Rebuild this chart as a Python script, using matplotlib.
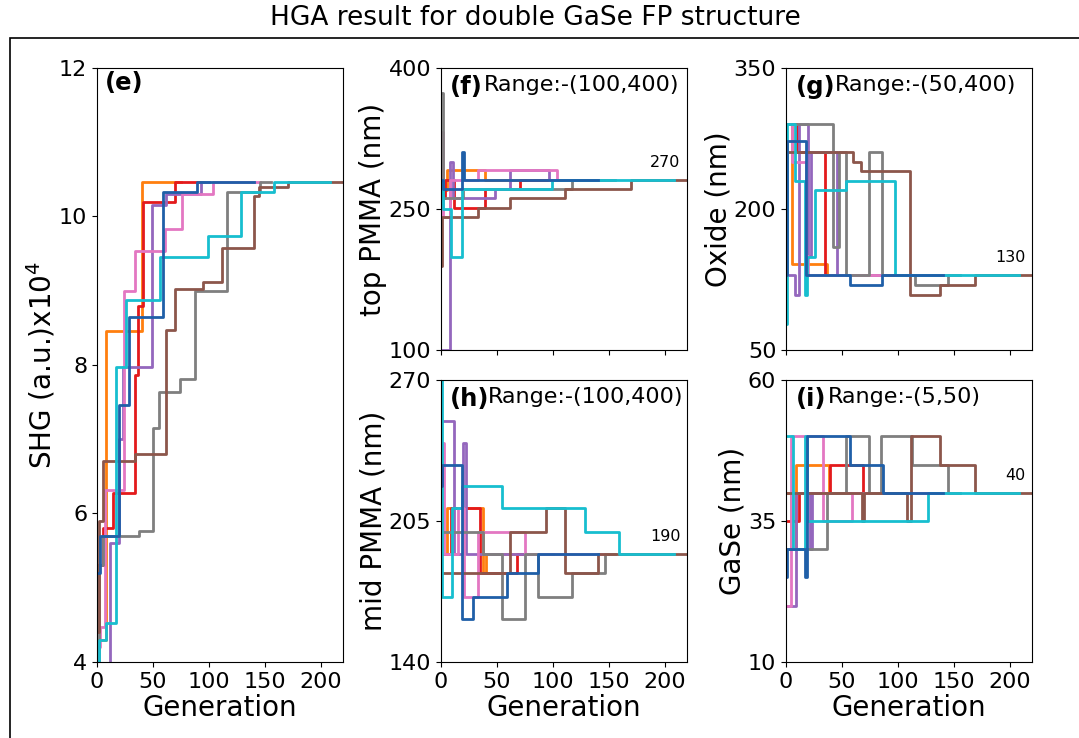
import matplotlib
matplotlib.use("Agg")
import matplotlib.pyplot as plt
from matplotlib.patches import Rectangle

# ---------------- data (change points of each GA run) ----------------
runs = ["orange", "red", "purple", "pink", "gray", "brown", "cyan", "blue"]
colors = {"orange": "tab:orange", "red": "#e31a1c", "purple": "tab:purple",
          "pink": "tab:pink", "gray": "tab:gray", "brown": "tab:brown",
          "cyan": "tab:cyan", "blue": "#1f5fa8"}
run_end = {"orange": 75, "red": 95, "purple": 100, "blue": 140,
           "pink": 146, "gray": 156, "cyan": 208, "brown": 220}

# (e) SHG x10^4
shg_gen = {"orange": [0, 8, 40], "red": [0, 5, 14, 34, 37, 41, 70],
           "purple": [0, 12, 20, 23, 49, 62, 93], "pink": [0, 3, 7, 24, 34, 61, 76, 104],
           "gray": [0, 2, 5, 38, 50, 55, 74, 88, 116, 146],
           "brown": [0, 2, 5, 34, 62, 70, 95, 112, 140, 145, 171],
           "cyan": [0, 2, 8, 17, 26, 56, 99, 129, 158], "blue": [0, 3, 20, 29, 59, 89]}
shg_val = {"orange": [4.3, 8.46, 10.46], "red": [5.3, 5.8, 6.28, 7.87, 8.8, 10.2, 10.46],
           "purple": [3.8, 5.6, 7.0, 7.97, 10.15, 10.3, 10.46],
           "pink": [4.2, 4.47, 6.32, 9.0, 9.54, 9.83, 10.3, 10.46],
           "gray": [4.0, 5.3, 5.7, 5.76, 7.15, 7.63, 7.81, 9.0, 10.33, 10.46],
           "brown": [4.4, 5.9, 6.7, 6.8, 8.47, 9.02, 9.12, 9.58, 10.28, 10.4, 10.46],
           "cyan": [4.0, 4.3, 4.53, 7.97, 8.87, 9.46, 9.73, 10.33, 10.46],
           "blue": [5.2, 5.7, 7.46, 8.65, 10.33, 10.46]}

# (f) top PMMA (nm)
top_gen = {"orange": [0, 5, 39], "red": [0, 4, 12, 39, 71],
           "purple": [0, 8, 11, 48, 62, 97], "pink": [0, 2, 8, 33, 104],
           "gray": [0, 2, 20, 117], "brown": [0, 1, 33, 62, 111, 170],
           "cyan": [0, 2, 9, 19, 99], "blue": [0, 2, 19, 21]}
top_val = {"orange": [270, 291, 281], "red": [262, 281, 251, 271, 281],
           "purple": [100, 300, 262, 271, 291, 281], "pink": [332, 241, 281, 291, 281],
           "gray": [373, 262, 271, 281], "brown": [189, 241, 251, 262, 271, 281],
           "cyan": [281, 250, 199, 271, 281], "blue": [281, 271, 311, 281]}

# (g) Oxide (nm)
oxide_gen = {"orange": [0, 5, 37], "red": [0, 10, 35],
             "purple": [0, 8, 12, 20, 22, 46], "pink": [0, 5, 18, 20],
             "gray": [0, 42, 47, 54, 74, 86, 115, 145],
             "brown": [0, 60, 67, 111, 138, 169],
             "cyan": [0, 1, 8, 17, 19, 26, 54, 97], "blue": [0, 1, 18, 57, 86]}
oxide_val = {"orange": [291, 141, 130], "red": [291, 261, 130],
             "purple": [130, 109, 291, 150, 261, 130], "pink": [291, 250, 150, 130],
             "gray": [291, 160, 261, 130, 261, 130, 119, 130],
             "brown": [261, 250, 240, 109, 119, 130],
             "cyan": [78, 291, 230, 109, 149, 220, 230, 130], "blue": [130, 272, 130, 119, 130]}

# (h) mid PMMA (nm)
mid_gen = {"orange": [0, 5, 38, 40], "red": [0, 9, 35, 68],
           "purple": [0, 12, 20, 22], "pink": [0, 3, 15, 21, 33, 75],
           "gray": [0, 38, 55, 75, 87, 117, 147], "brown": [0, 62, 94, 111, 140],
           "cyan": [0, 1, 10, 19, 55, 129, 159], "blue": [0, 1, 19, 29, 59, 87]}
mid_val = {"orange": [190, 211, 181, 190], "red": [190, 211, 181, 190],
           "purple": [251, 190, 241, 190], "pink": [241, 190, 211, 170, 200, 190],
           "gray": [200, 190, 160, 190, 170, 181, 190], "brown": [181, 200, 211, 181, 190],
           "cyan": [270, 170, 211, 221, 211, 200, 190], "blue": [221, 231, 160, 170, 181, 190]}

# (i) GaSe (nm)
gase_gen = {"orange": [0, 4, 9, 38], "red": [0, 12, 39, 69],
            "purple": [0, 9, 21, 23], "pink": [0, 4, 33, 59],
            "gray": [0, 37, 54, 74, 85, 113, 145],
            "brown": [0, 68, 70, 108, 112, 138, 169],
            "cyan": [0, 6, 17, 19, 127], "blue": [0, 1, 17, 19, 57, 87]}
gase_val = {"orange": [40, 30, 45, 40], "red": [35, 40, 45, 40],
            "purple": [20, 40, 30, 40], "pink": [20, 50, 35, 40],
            "gray": [30, 40, 50, 40, 50, 45, 40],
            "brown": [40, 35, 40, 35, 50, 45, 40],
            "cyan": [50, 30, 50, 35, 40], "blue": [25, 30, 25, 50, 45, 40]}

# ---------------- plotting ----------------
plt.rcParams['font.family'] = 'DejaVu Sans'
fig = plt.figure(figsize=(10.79, 7.38), dpi=100)

fig.patches.append(Rectangle((0.0093, -0.1), 1.2, 1.0485, transform=fig.transFigure,
                             fill=False, edgecolor='black', linewidth=1.2))
fig.text(0.496, 0.975, "HGA result for double GaSe FP structure",
         ha='center', va='center', fontsize=19)

w = 0.228
panels = [
    # (rect, gens, vals, ylim, yticks, ylabel, tag, range text, range x, final label)
    ([0.0899, 0.103, w, 0.805], shg_gen, shg_val, (4, 12), [4, 6, 8, 10, 12],
     "SHG (a.u.)x10$^4$", "(e)", "", 0, None),
    ([0.4087, 0.5257, w, 0.3821], top_gen, top_val, (100, 400), [100, 250, 400],
     "top PMMA (nm)", "(f)", "Range:-(100,400)", 0.175, "270"),
    ([0.7285, 0.5257, w, 0.3821], oxide_gen, oxide_val, (50, 350), [50, 200, 350],
     "Oxide (nm)", "(g)", "Range:-(50,400)", 0.2, "130"),
    ([0.4087, 0.103, w, 0.3821], mid_gen, mid_val, (140, 270), [140, 205, 270],
     "mid PMMA (nm)", "(h)", "Range:-(100,400)", 0.19, "190"),
    ([0.7285, 0.103, w, 0.3821], gase_gen, gase_val, (10, 60), [10, 35, 60],
     "GaSe (nm)", "(i)", "Range:-(5,50)", 0.17, "40"),
]

for rect, gens, vals, ylim, yticks, ylabel, tag, rng, rx, final in panels:
    ax = fig.add_axes(rect)
    for r in runs:
        x = gens[r] + [run_end[r]]
        y = vals[r] + [vals[r][-1]]
        ax.step(x, y, where='post', color=colors[r], lw=2)
    ax.set_xlim(0, 220)
    ax.set_ylim(*ylim)
    ax.set_yticks(yticks)
    ax.set_xticks([0, 50, 100, 150, 200])
    ax.tick_params(labelsize=16)
    ax.set_ylabel(ylabel, fontsize=20, labelpad=1)
    if rect[1] < 0.2:
        ax.set_xlabel("Generation", fontsize=20, labelpad=2)
    else:
        ax.set_xticklabels([])
    tx = 0.03 if not rng else 0.038
    ty = -2 if not rng else -5
    ax.annotate(tag, xy=(tx, 1), xycoords='axes fraction', xytext=(0, ty),
                textcoords='offset points', fontsize=17.5, fontweight='bold',
                va='top', ha='left')
    if rng:
        ax.annotate(rng, xy=(rx, 1), xycoords='axes fraction', xytext=(0, -5),
                    textcoords='offset points', fontsize=16, va='top', ha='left')
    if final:
        yv = vals["brown"][-1]
        ax.annotate(final, xy=(214, yv), xytext=(0, 7), textcoords='offset points',
                    ha='right', va='bottom', fontsize=11.5)

fig.savefig("out.png", dpi=100)
